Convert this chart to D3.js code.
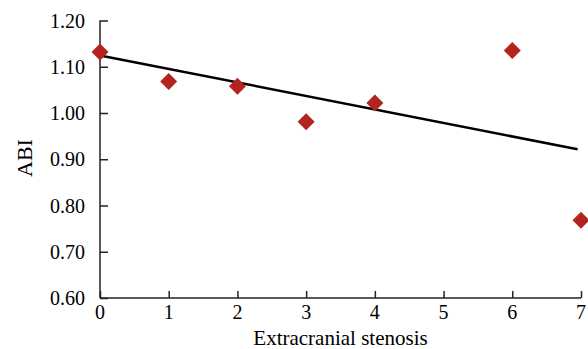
<!DOCTYPE html>
<html>
<head>
<meta charset="utf-8">
<script src="https://cdn.jsdelivr.net/npm/d3@7"></script>
<style>
  body { margin: 0; background: #fff; }
  svg { display: block; font-family: 'Liberation Serif', 'Times New Roman', serif; }
</style>
</head>
<body>
<svg id="chart"></svg>
<script>
// stenosis count vs mean ABI
const stenosis = [0, 1, 2, 3, 4, 6, 7]
const abi = [1.132, 1.068, 1.058, 0.981, 1.0215, 1.135, 0.768]
const xTicks = [0, 1, 2, 3, 4, 5, 6, 7]
const yTicks = [0.6, 0.7, 0.8, 0.9, 1.0, 1.1, 1.2]
// linear trendline as drawn in the figure
const trendIntercept = 1.1245
const trendSlope = -0.0292

const w = 588
const h = 349
const margin = { top: 20.5, right: 7, bottom: 51, left: 100 }

const svg = d3.select('#chart').attr('width', w).attr('height', h)

const x = d3.scaleLinear().domain([0, 7]).range([margin.left, w - margin.right])
const y = d3.scaleLinear().domain([0.6, 1.2]).range([h - margin.bottom, margin.top])

const axisColor = '#222'

// y axis, ticks pointing inward
const yAxis = svg
  .append('g')
  .attr('transform', `translate(${margin.left},0)`)
  .call(d3.axisRight(y).tickValues(yTicks).tickSize(8).tickFormat(() => ''))
yAxis.select('.domain').attr('d', `M0,${y(0.6)}V${y(1.2)}`)
yAxis.selectAll('path, line').attr('stroke', axisColor).attr('stroke-width', 1.5)

svg
  .append('g')
  .selectAll('text')
  .data(yTicks)
  .join('text')
  .attr('x', margin.left - 15)
  .attr('y', (d) => y(d))
  .attr('dy', '0.35em')
  .attr('text-anchor', 'end')
  .style('font-size', '20px')
  .attr('fill', '#000')
  .text((d) => d.toFixed(2))

// x axis, ticks pointing up
const xAxis = svg
  .append('g')
  .attr('transform', `translate(0,${y(0.6)})`)
  .call(d3.axisTop(x).tickValues(xTicks).tickSize(7).tickFormat(() => ''))
xAxis.select('.domain').attr('d', `M${x(0)},0H${x(7)}`)
xAxis.selectAll('path, line').attr('stroke', axisColor).attr('stroke-width', 1.5)

svg
  .append('g')
  .selectAll('text')
  .data(xTicks)
  .join('text')
  .attr('x', (d) => x(d))
  .attr('y', y(0.6) + 21)
  .attr('text-anchor', 'middle')
  .style('font-size', '20px')
  .attr('fill', '#000')
  .text((d) => d)

// axis titles
svg
  .append('text')
  .attr('x', (x(0) + x(7)) / 2)
  .attr('y', 345)
  .attr('text-anchor', 'middle')
  .style('font-size', '21px')
  .attr('fill', '#000')
  .text('Extracranial stenosis')

svg
  .append('text')
  .attr('transform', 'translate(32,158) rotate(-90)')
  .attr('text-anchor', 'middle')
  .style('font-size', '22px')
  .attr('fill', '#000')
  .text('ABI')

// trendline
const trend = d3
  .line()
  .x((d) => x(d))
  .y((d) => y(trendIntercept + trendSlope * d))

svg
  .append('path')
  .attr('d', trend([0, 6.95]))
  .attr('fill', 'none')
  .attr('stroke', '#000')
  .attr('stroke-width', 2.5)

// diamond markers
const r = 8.5
svg
  .append('g')
  .selectAll('path')
  .data(stenosis)
  .join('path')
  .attr('d', (d, i) => {
    const cx = x(d)
    const cy = y(abi[i])
    return `M${cx},${cy - r}L${cx + r},${cy}L${cx},${cy + r}L${cx - r},${cy}Z`
  })
  .attr('fill', '#b3241e')
</script>
</body>
</html>
